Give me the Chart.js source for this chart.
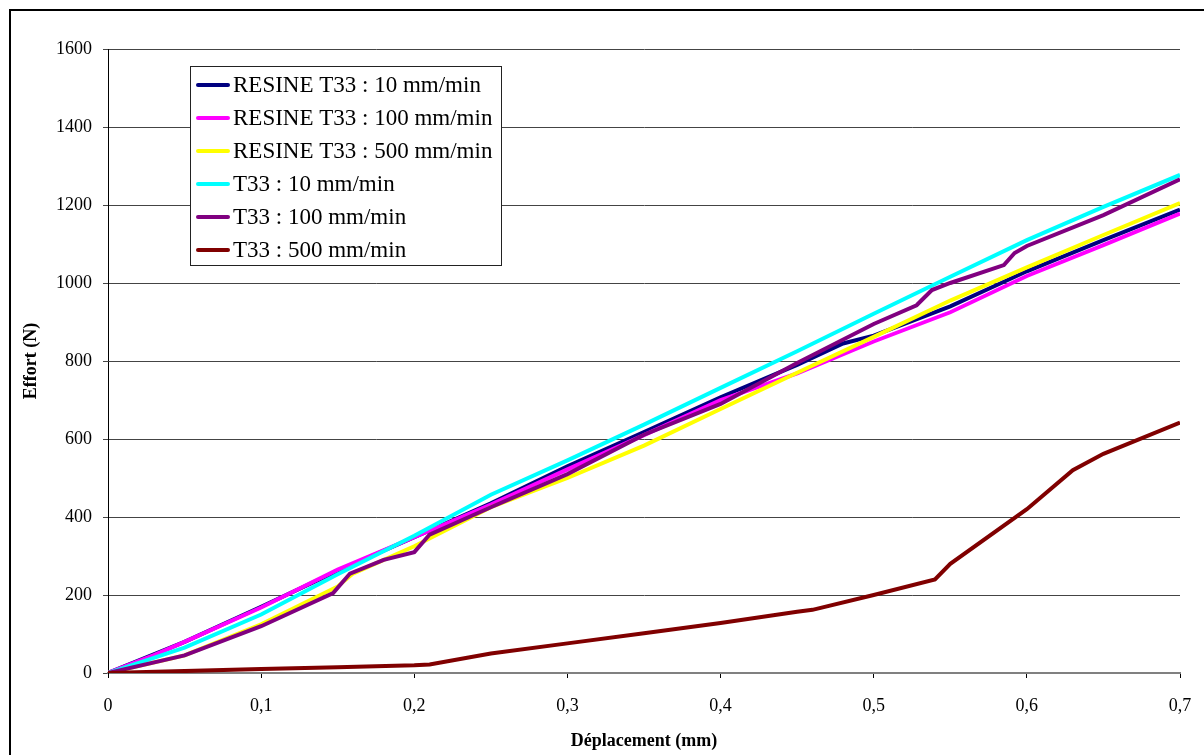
<!DOCTYPE html>
<html>
<head>
<meta charset="utf-8">
<script src="https://cdn.jsdelivr.net/npm/chart.js@4.4.0/dist/chart.umd.min.js"></script>
<style>
  body { margin: 0; background: #fff; }
  #wrap { width: 1204px; height: 755px; }
</style>
</head>
<body>
<div id="wrap"><canvas id="effortChart" width="1204" height="755"></canvas></div>
<script>
// series names and colours (Excel default palette)
const seriesLabels = [
    "RESINE T33 : 10 mm/min",
    "RESINE T33 : 100 mm/min",
    "RESINE T33 : 500 mm/min",
    "T33 : 10 mm/min",
    "T33 : 100 mm/min",
    "T33 : 500 mm/min",
];
const seriesColors = ["#000080", "#FF00FF", "#FFFF00", "#00FFFF", "#800080", "#800000"];

const xTickLabels = ["0", "0,1", "0,2", "0,3", "0,4", "0,5", "0,6", "0,7"];
const yTickLabels = ["0", "200", "400", "600", "800", "1000", "1200", "1400", "1600"];

// déplacement (mm) / effort (N)
const resine10X = [0, 0.05, 0.1, 0.15, 0.2, 0.25, 0.3, 0.35, 0.4, 0.45, 0.48, 0.5, 0.55, 0.6, 0.65, 0.7];
const resine10Y = [0, 80, 170, 262, 348, 435, 530, 618, 707, 790, 845, 865, 940, 1030, 1110, 1188];

const resine100X = [0, 0.03, 0.05, 0.1, 0.15, 0.2, 0.25, 0.3, 0.35, 0.4, 0.45, 0.5, 0.55, 0.6, 0.65, 0.7];
const resine100Y = [0, 46, 80, 168, 265, 348, 432, 522, 610, 700, 768, 850, 925, 1018, 1097, 1178];

const resine500X = [0, 0.05, 0.1, 0.15, 0.16, 0.2, 0.25, 0.3, 0.35, 0.4, 0.45, 0.5, 0.55, 0.6, 0.65, 0.7];
const resine500Y = [0, 45, 125, 222, 255, 325, 425, 500, 583, 677, 770, 862, 955, 1040, 1123, 1205];

const t33_10X = [0, 0.05, 0.1, 0.15, 0.2, 0.25, 0.3, 0.35, 0.4, 0.45, 0.5, 0.55, 0.6, 0.65, 0.7];
const t33_10Y = [0, 65, 150, 253, 352, 457, 545, 637, 731, 825, 921, 1016, 1110, 1195, 1277];

const t33_100X = [0, 0.05, 0.1, 0.147, 0.158, 0.18, 0.2, 0.21, 0.25, 0.3, 0.35, 0.4, 0.45, 0.5, 0.528, 0.538, 0.55, 0.585, 0.592, 0.6, 0.65, 0.7];
const t33_100Y = [0, 45, 120, 205, 255, 290, 310, 355, 425, 510, 611, 690, 795, 895, 943, 982, 1000, 1046, 1077, 1095, 1174, 1266];

const t33_500X = [0, 0.05, 0.1, 0.15, 0.2, 0.21, 0.25, 0.3, 0.35, 0.4, 0.45, 0.46, 0.5, 0.54, 0.55, 0.6, 0.63, 0.65, 0.7];
const t33_500Y = [0, 5, 10, 15, 20, 22, 50, 76, 102, 128, 157, 162, 200, 240, 280, 420, 520, 562, 642];

const seriesX = [resine10X, resine100X, resine500X, t33_10X, t33_100X, t33_500X];
const seriesY = [resine10Y, resine100Y, resine500Y, t33_10Y, t33_100Y, t33_500Y];

const serif = "'Liberation Serif', 'Times New Roman', serif";

document.addEventListener("DOMContentLoaded", function () {
    const ctx = document.getElementById("effortChart").getContext("2d");

    // white background, outer frame and the boxed legend like Excel
    const frameAndLegend = {
        id: "frameAndLegend",
        beforeDraw(chart) {
            const c = chart.ctx;
            c.save();
            c.fillStyle = "#fff";
            c.fillRect(0, 0, chart.width, chart.height);
            c.restore();
        },
        afterDraw(chart) {
            const c = chart.ctx;
            c.save();
            c.strokeStyle = "#000";
            c.lineWidth = 2;
            c.strokeRect(10, 10, 1400, 900);

            c.fillStyle = "#fff";
            c.fillRect(190, 66, 312, 199);
            c.lineWidth = 1;
            c.strokeStyle = "#222";
            c.strokeRect(190.5, 66.5, 311, 199);

            c.font = "23px " + serif;
            c.textBaseline = "middle";
            c.lineCap = "round";
            chart.data.datasets.forEach(function (ds, i) {
                const y = 85 + i * 33;
                c.strokeStyle = ds.borderColor;
                c.lineWidth = 4;
                c.beginPath();
                c.moveTo(198, y);
                c.lineTo(228, y);
                c.stroke();
                c.fillStyle = "#000";
                c.fillText(ds.label, 233, y + 1);
            });
            c.restore();
        },
    };

    new Chart(ctx, {
        type: "line",
        data: {
            datasets: seriesLabels.map(function (label, i) {
                return {
                    label: label,
                    data: seriesX[i].map(function (x, j) { return { x: x, y: seriesY[i][j] }; }),
                    borderColor: seriesColors[i],
                    backgroundColor: seriesColors[i],
                    borderWidth: 4,
                    pointRadius: 0,
                    tension: 0,
                    order: seriesLabels.length - i, // later series on top
                };
            }),
        },
        options: {
            responsive: false,
            animation: false,
            layout: { padding: { left: 0, top: 49, right: 24, bottom: 0 } },
            plugins: {
                legend: { display: false },
                tooltip: { enabled: false },
            },
            scales: {
                x: {
                    type: "linear",
                    min: 0,
                    max: 0.7,
                    afterFit: function (axis) {
                        axis.height = 82;
                        axis.paddingLeft = 0;
                        axis.paddingRight = 0;
                    },
                    ticks: {
                        stepSize: 0.1,
                        autoSkip: false,
                        maxRotation: 0,
                        padding: 17,
                        color: "#000",
                        font: { family: serif, size: 18 },
                        callback: function (v, i) { return xTickLabels[i]; },
                    },
                    grid: { drawOnChartArea: false, drawTicks: true, tickLength: 5, color: "#000" },
                    border: { color: "#808080", width: 2 },
                    title: {
                        display: true,
                        text: "Déplacement (mm)",
                        color: "#000",
                        font: { family: serif, size: 18, weight: "bold" },
                        padding: { top: 0, bottom: 3 },
                    },
                },
                y: {
                    min: 0,
                    max: 1600,
                    afterFit: function (axis) {
                        axis.width = 108;
                        axis.paddingTop = 0;
                        axis.paddingBottom = 0;
                    },
                    ticks: {
                        stepSize: 200,
                        padding: 11,
                        color: "#000",
                        font: { family: serif, size: 18 },
                        callback: function (v, i) { return yTickLabels[i]; },
                    },
                    grid: { color: "#444", lineWidth: 1, tickLength: 5 },
                    border: { color: "#000", width: 1 },
                    title: {
                        display: true,
                        text: "Effort (N)",
                        color: "#000",
                        font: { family: serif, size: 18, weight: "bold" },
                        padding: { top: 21, bottom: 0 },
                    },
                },
            },
        },
        plugins: [frameAndLegend],
    });
});
</script>
</body>
</html>
